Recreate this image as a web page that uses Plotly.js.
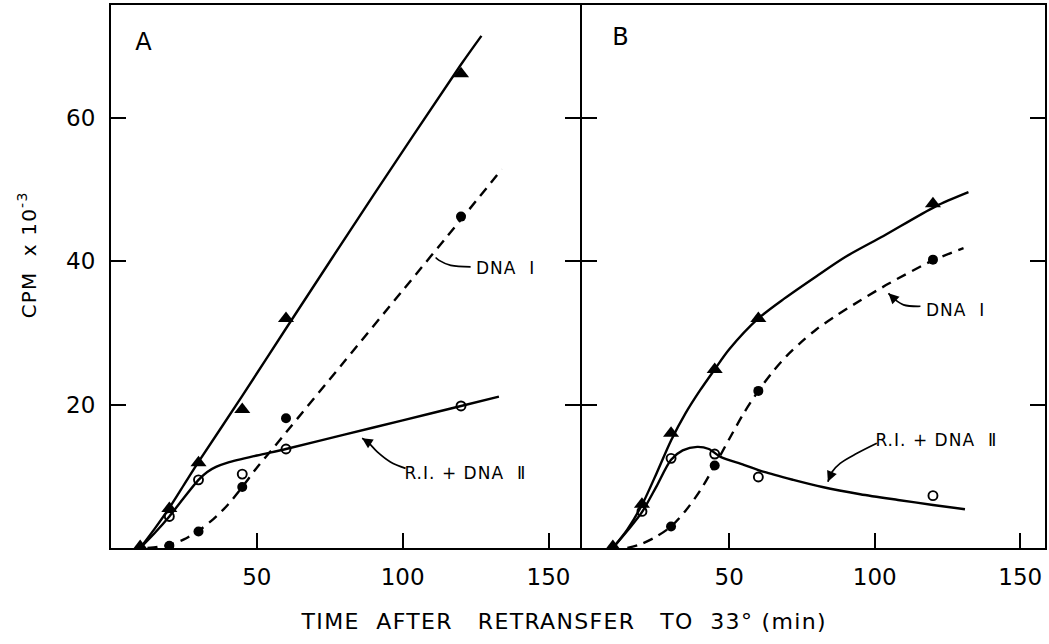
<!DOCTYPE html>
<html>
<head>
<meta charset="utf-8">
<script src="https://cdn.plot.ly/plotly-3.0.1.min.js"></script>
<style>
  html, body { margin: 0; padding: 0; background: #fff; }
  #chart { width: 1049px; height: 644px; }
  /* lettering is slightly spaced out, as in hand-stencilled figures */
  #chart .annotation-text { letter-spacing: 0.06em; }
</style>
</head>
<body>
<div id="chart"></div>
<script>
// Incorporation of label into DNA after retransfer to 33 degrees (CPM x 10^-3)

// ---- Panel A: measured points ----
const timeA_tri = [10, 20, 30, 45, 60, 120];
const totalA = [0.2, 5.5, 11.9, 19.3, 32.0, 66.1];
const timeA_dna1 = [20, 30, 45, 60, 120];
const dna1A = [0.3, 2.3, 8.5, 18.1, 46.2];
const timeA_ri = [20, 30, 45, 60, 120];
const riA = [4.4, 9.5, 10.3, 13.8, 19.8];

// ---- Panel A: hand-drawn curves ----
const curveTotalA_x = [10, 15, 20, 25, 30, 45, 60, 90, 120, 127];
const curveTotalA_y = [0, 2.7, 5.6, 8.8, 12, 21.2, 30.6, 49.2, 67.4, 71.4];
const curveDna1A_x = [12.5, 16, 20, 25, 30, 35, 40, 45, 50, 56, 60, 80, 100, 120, 134];
const curveDna1A_y = [0, 0.15, 0.45, 1.2, 2.4, 4, 6, 8.5, 11.2, 14.1, 16.1, 26, 35.9, 45.8, 52.8];
const curveRiA_x = [10, 15, 20, 25, 30, 33, 36, 40, 50, 60, 80, 100, 120, 133];
const curveRiA_y = [0, 2.1, 4.4, 7, 9.5, 10.6, 11.3, 11.9, 12.9, 13.8, 15.8, 17.8, 19.8, 21.1];

// ---- Panel B: measured points ----
const timeB_tri = [10, 20, 30, 45, 60, 120];
const totalB = [0.2, 6.1, 16.0, 24.9, 32.0, 48.0];
const timeB_dna1 = [30, 45, 60, 120];
const dna1B = [3.0, 11.5, 21.9, 40.2];
const timeB_ri = [20, 30, 45, 60, 120];
const riB = [5.1, 12.5, 13.1, 9.9, 7.3];

// ---- Panel B: hand-drawn curves ----
const curveTotalB_x = [10, 15, 20, 25, 30, 35, 40, 45, 50, 60, 69, 80, 90, 103, 120.8, 132.2];
const curveTotalB_y = [0, 2.6, 6, 10.4, 15, 18.8, 22, 24.9, 27.7, 32, 34.8, 37.9, 40.6, 43.5, 47.6, 49.6];
const curveDna1B_x = [15, 20, 25, 30, 35, 40, 45, 50, 55, 60, 65, 70, 75, 80, 86, 95, 105, 120, 130.5];
const curveDna1B_y = [0, 0.6, 1.6, 3, 5.2, 8, 11.5, 15.2, 18.8, 21.9, 24.6, 26.9, 28.8, 30.5, 32.2, 34.5, 36.9, 40.1, 41.8];
const curveRiB_x = [10, 15, 20, 25, 30, 34, 39, 43, 47, 55, 62, 72, 82, 95, 108, 120, 131];
const curveRiB_y = [0, 2.4, 5, 8.6, 12.3, 13.6, 14.1, 13.8, 12.7, 11.6, 10.6, 9.5, 8.5, 7.5, 6.7, 6, 5.4];

// ---- Label pointers (curved leaders ending in an arrowhead at the curve) ----
const leaderDna1A_x = [123.3, 116.5, 112.5, 111.3];
const leaderDna1A_y = [39.2, 39.4, 40.1, 40.5];
const leaderRiA_x = [101, 95.8, 91.3, 88, 86.1];
const leaderRiA_y = [11.1, 12.0, 13.4, 14.8, 15.3];
const leaderDna1B_x = [115.7, 109.9, 106.5, 104.7];
const leaderDna1B_y = [33.7, 33.9, 34.8, 35.5];
const leaderRiB_x = [100.7, 93.9, 88.1, 85.3, 83.9];
const leaderRiB_y = [14.6, 13.2, 11.8, 10.6, 9.25];

// ---- Axis ticks and labels ----
const xTickVals = [50, 100, 150];
const xTickText = ['50', '100', '150'];
const yTickVals = [20, 40, 60];
const yTickText = ['20', '40', '60'];
const labelDna1 = 'DNA\u00a0\u00a0\u2160';
const labelRi = 'R.\u2160.\u00a0+\u00a0DNA\u00a0\u00a0\u2161';
const xTitle = 'TIME\u00a0\u00a0AFTER\u00a0\u00a0\u00a0RETRANSFER\u00a0\u00a0\u00a0TO\u00a0\u00a033°\u00a0(min)';
const yTitle = 'CPM\u00a0\u00a0x\u00a010<sup>-3</sup>';

const FONT = 'DejaVu Sans, Liberation Sans, sans-serif';
const INK = '#000';

function curve(x, y, xa, ya, dashed) {
  return {
    x: x, y: y, xaxis: xa, yaxis: ya, type: 'scatter', mode: 'lines',
    line: { color: INK, width: 2.4, shape: 'spline', smoothing: 0.8, dash: dashed ? '10px,7px' : 'solid' },
    hoverinfo: 'skip', showlegend: false
  };
}
function leader(x, y, xa, ya) {
  return {
    x: x, y: y, xaxis: xa, yaxis: ya, type: 'scatter', mode: 'lines',
    line: { color: INK, width: 1.7, shape: 'spline', smoothing: 1 },
    hoverinfo: 'skip', showlegend: false
  };
}
function points(x, y, xa, ya, kind) {
  const m = { color: INK, size: 9, line: { color: INK, width: 0 } };
  if (kind === 'tri') { m.symbol = 'triangle-up'; m.size = 14; }
  else if (kind === 'dot') { m.symbol = 'circle'; m.size = 10; }
  else { m.symbol = 'circle-open'; m.size = 9; m.line = { color: INK, width: 1.9 }; }
  return { x: x, y: y, xaxis: xa, yaxis: ya, type: 'scatter', mode: 'markers',
           marker: m, hoverinfo: 'x+y', showlegend: false };
}

const data = [
  curve(curveTotalA_x, curveTotalA_y, 'x', 'y', false),
  curve(curveDna1A_x, curveDna1A_y, 'x', 'y', true),
  curve(curveRiA_x, curveRiA_y, 'x', 'y', false),
  curve(curveTotalB_x, curveTotalB_y, 'x2', 'y2', false),
  curve(curveDna1B_x, curveDna1B_y, 'x2', 'y2', true),
  curve(curveRiB_x, curveRiB_y, 'x2', 'y2', false),
  leader(leaderDna1A_x, leaderDna1A_y, 'x', 'y'),
  leader(leaderRiA_x, leaderRiA_y, 'x', 'y'),
  leader(leaderDna1B_x, leaderDna1B_y, 'x2', 'y2'),
  leader(leaderRiB_x, leaderRiB_y, 'x2', 'y2'),
  points(timeA_tri, totalA, 'x', 'y', 'tri'),
  points(timeA_dna1, dna1A, 'x', 'y', 'dot'),
  points(timeA_ri, riA, 'x', 'y', 'open'),
  points(timeB_tri, totalB, 'x2', 'y2', 'tri'),
  points(timeB_dna1, dna1B, 'x2', 'y2', 'dot'),
  points(timeB_ri, riB, 'x2', 'y2', 'open')
];

// arrowhead at the end of each leader, oriented along its last segment
function arrowHead(lx, ly, xr, yr) {
  const n = lx.length;
  return {
    x: lx[n - 1], y: ly[n - 1], ax: lx[n - 2], ay: ly[n - 2],
    xref: xr, yref: yr, axref: xr, ayref: yr,
    text: '', showarrow: true, arrowhead: 2, arrowsize: 1.3, arrowwidth: 1.6,
    arrowcolor: INK, standoff: 0, startstandoff: 0
  };
}
function label(text, x, y, xr, yr, size) {
  return { text: text, x: x, y: y, xref: xr, yref: yr, xanchor: 'left', yanchor: 'middle',
           showarrow: false, font: { family: FONT, size: size, color: INK } };
}

const axisCommon = {
  showline: true, linecolor: INK, linewidth: 2, showgrid: false, zeroline: false,
  ticks: 'inside', ticklen: 15, tickwidth: 2, tickcolor: INK,
  tickfont: { family: FONT, size: 23, color: INK }
};

const layout = {
  width: 1049, height: 644,
  margin: { l: 111, r: 4, t: 5, b: 96 },
  paper_bgcolor: '#fff', plot_bgcolor: '#fff',
  showlegend: false,
  xaxis: Object.assign({}, axisCommon, {
    domain: [0, 0.50214], range: [0, 160.8], anchor: 'y', mirror: true,
    tickmode: 'array', tickvals: xTickVals, ticktext: xTickText, ticklabelstandoff: 7
  }),
  yaxis: Object.assign({}, axisCommon, {
    domain: [0, 1], range: [0, 75.7], anchor: 'x', mirror: 'ticks',
    tickmode: 'array', tickvals: yTickVals, ticktext: yTickText, ticklabelstandoff: 9
  }),
  xaxis2: Object.assign({}, axisCommon, {
    domain: [0.504283, 1], range: [-0.6, 158.5], anchor: 'y2', mirror: true,
    tickmode: 'array', tickvals: xTickVals, ticktext: xTickText, ticklabelstandoff: 7
  }),
  yaxis2: Object.assign({}, axisCommon, {
    domain: [0, 1], range: [0, 75.7], anchor: 'x2', mirror: 'ticks',
    tickmode: 'array', tickvals: yTickVals, showticklabels: false
  }),
  annotations: [
    arrowHead(leaderDna1A_x, leaderDna1A_y, 'x', 'y'),
    arrowHead(leaderRiA_x, leaderRiA_y, 'x', 'y'),
    arrowHead(leaderDna1B_x, leaderDna1B_y, 'x2', 'y2'),
    arrowHead(leaderRiB_x, leaderRiB_y, 'x2', 'y2'),
    label(labelDna1, 125.6, 39.1, 'x', 'y', 17),
    label(labelRi, 102, 10.4, 'x', 'y', 17),
    label(labelDna1, 117.8, 33.2, 'x2', 'y2', 17),
    label(labelRi, 101.9, 15.0, 'x2', 'y2', 17),
    { text: 'A', x: 11.5, y: 70.6, xref: 'x', yref: 'y', xanchor: 'center', yanchor: 'middle',
      showarrow: false, font: { family: FONT, size: 24, color: INK } },
    { text: 'B', x: 12.8, y: 71.2, xref: 'x2', yref: 'y2', xanchor: 'center', yanchor: 'middle',
      showarrow: false, font: { family: FONT, size: 24, color: INK } },
    { text: xTitle, x: 0.485, y: -0.136, xref: 'paper', yref: 'paper', xanchor: 'center', yanchor: 'middle',
      showarrow: false, font: { family: FONT, size: 22, color: INK } },
    { text: yTitle, x: -0.09, y: 0.54, xref: 'paper', yref: 'paper', xanchor: 'center', yanchor: 'middle',
      textangle: -90, showarrow: false, font: { family: FONT, size: 20, color: INK } }
  ]
};

Plotly.newPlot('chart', data, layout, { displayModeBar: false, staticPlot: true });
</script>
</body>
</html>
